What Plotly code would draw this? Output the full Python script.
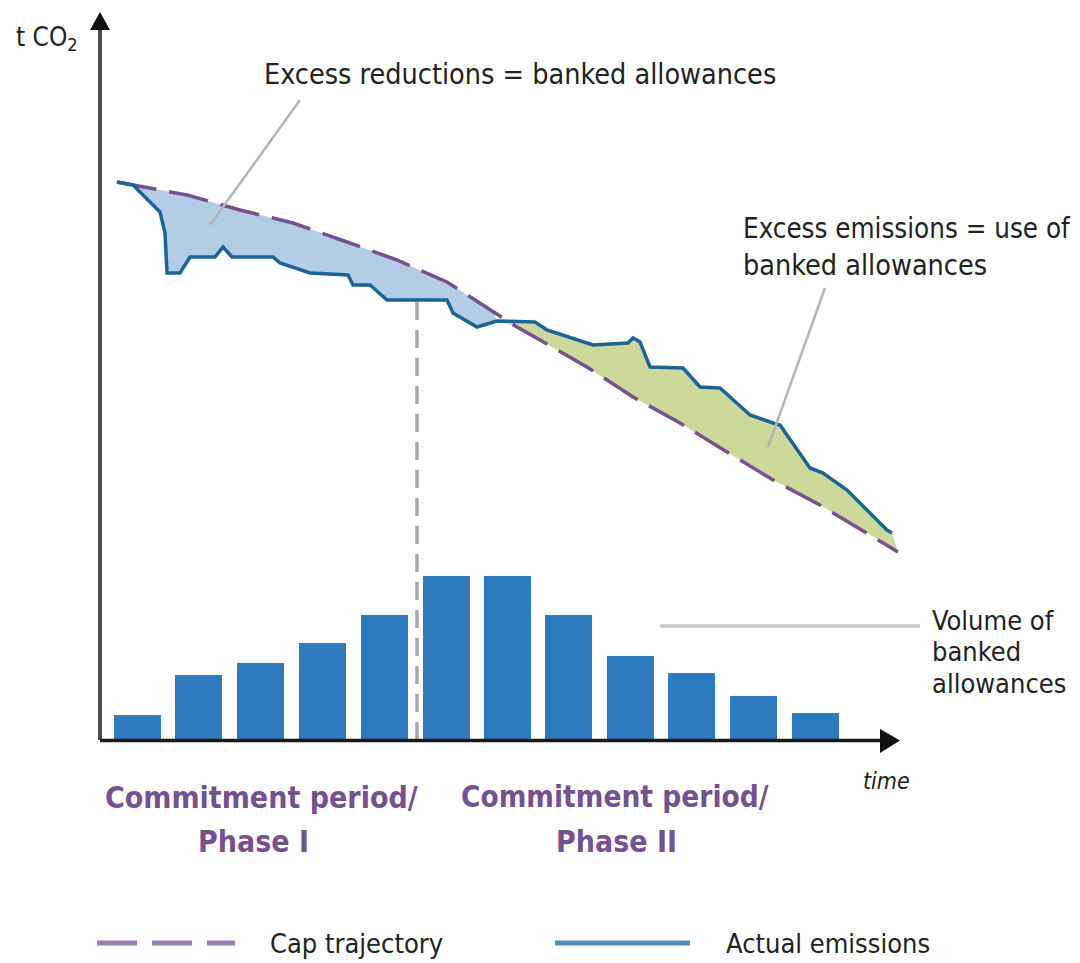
import plotly.graph_objects as go

# ---- data (time in arbitrary units from the origin, tCO2 in arbitrary units) ----
time_cap = [17, 87, 140, 193, 247, 297, 347, 393, 417, 440, 487, 533, 580, 627, 673, 720, 767, 798]
cap = [558, 545, 530, 517, 498, 480, 458, 428, 413, 400, 373, 343, 317, 288, 260, 235, 207, 188]

time_act = [17, 33, 60, 65, 67, 80, 90, 115, 123, 132, 173, 180, 210, 248, 253, 270, 287, 347,
            353, 377, 397, 435, 447, 493, 528, 533, 540, 550, 583, 600, 620, 650, 673, 680,
            710, 723, 747, 787, 792]
actual = [558, 555, 528, 507, 467, 467, 483, 483, 493, 483, 483, 477, 467, 465, 455, 455, 440, 440,
          427, 413, 419, 418, 410, 395, 397, 402, 398, 373, 372, 353, 352, 325, 317, 315,
          272, 267, 250, 210, 207]

periods = [37, 98, 160, 222, 284, 346, 407, 468, 530, 591, 653, 715]
banked = [25, 65, 77, 97, 125, 164, 164, 125, 84, 67, 44, 27]

phase_split = 317  # boundary between Phase I and Phase II

FONT = "Liberation Sans Narrow, DejaVu Sans Condensed, Arial Narrow, sans-serif"
PURPLE = "#76508f"
BLUE_LINE = "#1a6496"
BAR = "#2f7bbf"
TXT = "#222222"

fig = go.Figure()

# shaded areas between cap and actual emissions
n_cap_b = 8   # cap points before crossing
n_act_b = 21  # actual points up to crossing
fig.add_trace(go.Scatter(
    x=time_cap[:n_cap_b] + time_act[:n_act_b][::-1],
    y=cap[:n_cap_b] + actual[:n_act_b][::-1],
    fill="toself", fillcolor="#b3cde6", mode="lines", line=dict(width=0),
    hoverinfo="skip", showlegend=False))
fig.add_trace(go.Scatter(
    x=time_act[n_act_b - 1:] + time_cap[n_cap_b:][::-1],
    y=actual[n_act_b - 1:] + cap[n_cap_b:][::-1],
    fill="toself", fillcolor="#cdd99b", mode="lines", line=dict(width=0),
    hoverinfo="skip", showlegend=False))

# bars: volume of banked allowances
fig.add_trace(go.Bar(x=periods, y=banked, width=47, marker=dict(color=BAR, line=dict(width=0)),
                     showlegend=False, hoverinfo="skip"))

# cap trajectory and actual emissions
fig.add_trace(go.Scatter(x=time_cap, y=cap, mode="lines",
                         line=dict(color=PURPLE, width=3.5, dash="40px,13px"),
                         name="Cap trajectory", showlegend=False))
fig.add_trace(go.Scatter(x=time_act, y=actual, mode="lines",
                         line=dict(color=BLUE_LINE, width=3.5),
                         name="Actual emissions", showlegend=False))

shapes = []
# phase boundary (dashed grey)
shapes.append(dict(type="line", xref="x", yref="y", x0=phase_split, x1=phase_split, y0=0, y1=440,
                   line=dict(color="#a8a8a8", width=3.5, dash="18px,10px"), layer="below"))
# axes
shapes.append(dict(type="line", xref="x", yref="y", x0=0, x1=0, y0=0, y1=715,
                   line=dict(color="#4a4a4a", width=4)))
shapes.append(dict(type="line", xref="x", yref="y", x0=0, x1=785, y0=-0.5, y1=-0.5,
                   line=dict(color="#1a1a1a", width=3.5)))
shapes.append(dict(type="path", xref="x", yref="y", path="M -10,710 L 10,710 L 0,728 Z",
                   fillcolor="#111111", line=dict(width=0)))
shapes.append(dict(type="path", xref="x", yref="y", path="M 780,11 L 780,-13 L 800,-0.5 Z",
                   fillcolor="#111111", line=dict(width=0)))
# leader lines
lead = dict(color="#b5b5b5", width=2.5)
shapes.append(dict(type="line", xref="x", yref="y", x0=200, y0=640, x1=110, y1=515, line=lead))
shapes.append(dict(type="line", xref="x", yref="y", x0=725, y0=452, x1=668, y1=293, line=lead))
shapes.append(dict(type="line", xref="x", yref="y", x0=560, y0=114, x1=820, y1=114,
                   line=dict(color="#c8c8c8", width=3.5)))
# legend samples
shapes.append(dict(type="line", xref="x", yref="y", x0=-3, x1=135, y0=-203, y1=-203,
                   line=dict(color="#9a7fb3", width=5, dash="40px,15px")))
shapes.append(dict(type="line", xref="x", yref="y", x0=455, x1=590, y0=-203, y1=-203,
                   line=dict(color="#5490b5", width=5)))

def ann(text, x, y, size=29, color=TXT, xanchor="left", bold=False, italic=False):
    if bold:
        text = "<b>" + text + "</b>"
    if italic:
        text = "<i>" + text + "</i>"
    return dict(text=text, x=x, y=y, xref="x", yref="y", showarrow=False,
                xanchor=xanchor, yanchor="middle", font=dict(family=FONT, size=size, color=color))

annotations = [
    ann("t CO<sub>2</sub>", -86, 702, size=26),
    ann("Excess reductions = banked allowances", 162, 666, size=28.5),
    ann("Excess emissions = use of", 641, 512, size=27.5),
    ann("banked allowances", 641, 475, size=28.5),
    ann("Volume of", 830, 120, size=27),
    ann("banked", 830, 89, size=27),
    ann("allowances", 830, 57, size=27),
    ann("time", 786, -41, size=23, xanchor="center", italic=True),
    ann("Commitment period/", 161, -57, size=30, color=PURPLE, xanchor="center", bold=True),
    ann("Phase I", 153, -101, size=30, color=PURPLE, xanchor="center", bold=True),
    ann("Commitment period/", 515, -57, size=29.5, color=PURPLE, xanchor="center", bold=True),
    ann("Phase II", 516, -101, size=30, color=PURPLE, xanchor="center", bold=True),
    ann("Cap trajectory", 168, -203, size=27),
    ann("Actual emissions", 624, -203, size=27),
]

# the page body adds an 8px offset; ranges compensate so the origin sits at (100, 740) on screen
fig.update_layout(
    width=1080, height=963,
    margin=dict(l=0, r=0, t=0, b=0),
    paper_bgcolor="white", plot_bgcolor="white",
    xaxis=dict(range=[-92, 988], visible=False, fixedrange=True),
    yaxis=dict(range=[-231, 732], visible=False, fixedrange=True),
    shapes=shapes, annotations=annotations,
    bargap=0, showlegend=False,
)

fig.write_html("out.html")
